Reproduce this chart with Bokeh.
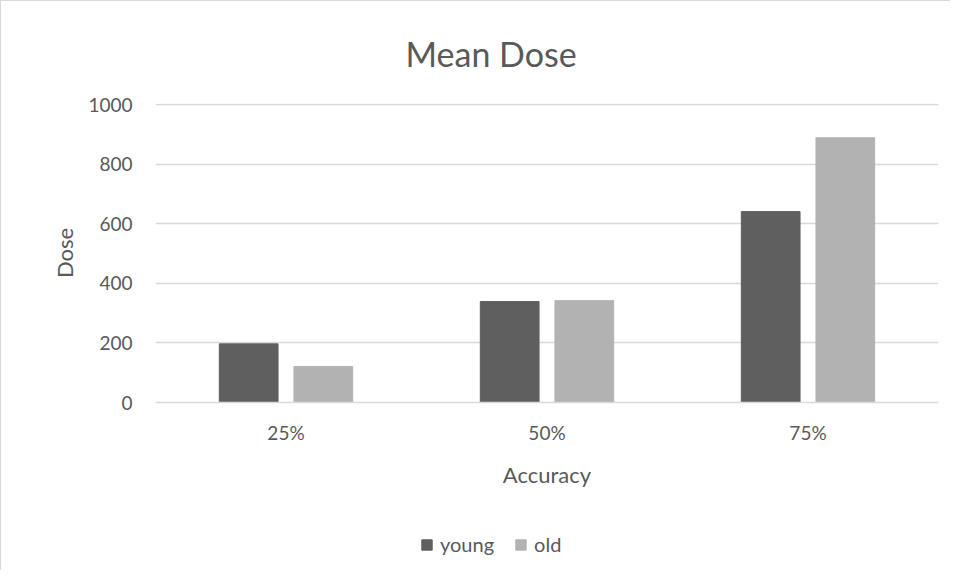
from bokeh.plotting import figure
from bokeh.layouts import column
from bokeh.models import (FactorRange, Range1d, FixedTicker, Legend, LegendItem,
                          ColumnDataSource, Title)
from bokeh.transform import dodge
from bokeh.embed import file_html
from bokeh.resources import INLINE

categories = ["25%", "50%", "75%"]
young = [197, 339, 641]
old = [121, 342, 889]
y_ticks = [0, 200, 400, 600, 800, 1000]
series_names = ["young", "old"]
series_colors = ["#5f5f5f", "#b2b2b2"]

FONT = "Lato"
TXT = "#595959"
GRID = "#d9d9d9"

src = ColumnDataSource(dict(cat=categories, young=young, old=old))

p = figure(width=950, height=500, output_backend="svg", toolbar_location=None,
           x_range=FactorRange(factors=categories, range_padding=0),
           y_range=Range1d(0, 1004),
           min_border_left=154, min_border_right=13, min_border_top=102,
           min_border_bottom=99)
p.styles = {"border-left": "1px solid #d9d9d9", "border-top": "1px solid #d9d9d9"}
p.outline_line_color = None

t = Title(text="Mean Dose", align="left", offset=250, text_font=FONT,
          text_font_size="34px", text_font_style="normal", text_color=TXT,
          standoff=59)
p.add_layout(t, "above")

r1 = p.vbar(x=dodge("cat", -0.143, range=p.x_range), top="young", width=0.225,
            source=src, fill_color=series_colors[0], line_color=series_colors[0])
r2 = p.vbar(x=dodge("cat", 0.143, range=p.x_range), top="old", width=0.225,
            source=src, fill_color=series_colors[1], line_color=series_colors[1])

p.yaxis.ticker = FixedTicker(ticks=y_ticks)
p.ygrid.ticker = FixedTicker(ticks=y_ticks)
p.ygrid.grid_line_color = GRID
p.ygrid.grid_line_width = 1.3
p.xgrid.grid_line_color = None

for ax in (p.xaxis[0], p.yaxis[0]):
    ax.major_tick_line_color = None
    ax.minor_tick_line_color = None
    ax.major_tick_out = 0
    ax.major_tick_in = 0
    ax.minor_tick_out = 0
    ax.minor_tick_in = 0
    ax.major_label_text_font = FONT
    ax.major_label_text_font_size = "19px"
    ax.major_label_text_color = TXT
    ax.axis_label_text_font = FONT
    ax.axis_label_text_font_size = "22px"
    ax.axis_label_text_font_style = "normal"
    ax.axis_label_text_color = TXT

p.yaxis.axis_line_color = None
p.xaxis.axis_line_color = GRID
p.xaxis.axis_line_width = 1.3
p.yaxis.axis_label = "Dose"
p.xaxis.axis_label = "Accuracy"
p.yaxis.major_label_standoff = 23
p.yaxis.axis_label_standoff = 7
p.xaxis.major_label_standoff = 18
p.xaxis.axis_label_standoff = 14

# legend in a strip beneath the chart (its frame is aligned with the chart's frame)
lg = figure(width=950, height=70, output_backend="svg", toolbar_location=None,
            x_axis_location=None, y_axis_location=None, min_border=0,
            x_range=(0, 1), y_range=(0, 1))
lg.styles = {"border-left": "1px solid #d9d9d9"}
lg.outline_line_color = None
lg.grid.visible = False
# swatch sources lie outside the visible range; only their legend glyphs show
swatch = ColumnDataSource(dict(x=[-5.0], top=[0.0]))
lr = [lg.vbar(x="x", top="top", width=0.1, source=swatch,
              fill_color=c, line_color=c) for c in series_colors]

legend = Legend(items=[LegendItem(label=n, renderers=[r]) for n, r in zip(series_names, lr)],
                orientation="horizontal", location=(265, 14),
                label_text_font=FONT, label_text_font_size="20px",
                label_text_color=TXT, glyph_width=13, glyph_height=13,
                spacing=20, label_standoff=7, border_line_color=None,
                background_fill_alpha=0, margin=0, padding=0)
lg.add_layout(legend, "center")

layout = column(p, lg, spacing=0)
open("out.html", "w").write(file_html(layout, INLINE))
